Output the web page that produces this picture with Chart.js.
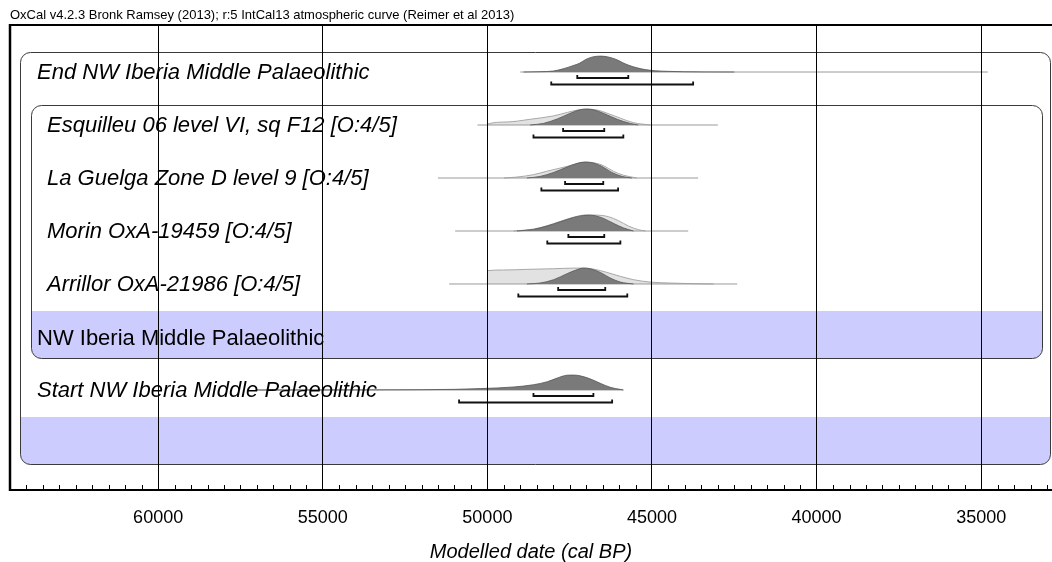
<!DOCTYPE html>
<html>
<head>
<meta charset="utf-8">
<script src="https://cdn.jsdelivr.net/npm/chart.js@4.4.1/dist/chart.umd.min.js"></script>
<style>
  html, body { margin: 0; padding: 0; background: #fff; }
  #wrap { width: 1052px; height: 562px; }
</style>
</head>
<body>
<div id="wrap"><canvas id="c" width="1052" height="562"></canvas></div>
<script>
// ---- text ----
const headerText = 'OxCal v4.2.3 Bronk Ramsey (2013); r:5 IntCal13 atmospheric curve (Reimer et al 2013)';
const axisTitle = 'Modelled date (cal BP)';
const majorTicks = [60000, 55000, 50000, 45000, 40000, 35000];
const minorStep = 500;
const xRange = [32850, 64500];

// one row per entry, top to bottom
const rowLabels = [
  'End NW Iberia Middle Palaeolithic',
  'Esquilleu 06 level VI, sq F12 [O:4/5]',
  'La Guelga Zone D level 9 [O:4/5]',
  'Morin OxA-19459 [O:4/5]',
  'Arrillor OxA-21986 [O:4/5]',
  'NW Iberia Middle Palaeolithic',
  'Start NW Iberia Middle Palaeolithic',
  ''
];

// ---- extents of the thin base line under each distribution (cal BP) ----
const lineRanges = [
  [49000, 34800],
  [50300, 43000],
  [51500, 43600],
  [50980, 43900],
  [51160, 42410],
  null,
  [57000, 45870],
  null
];

// ---- highest posterior density ranges (cal BP) ----
const range68 = [
  [47270, 45720],
  [47700, 46450],
  [47640, 46480],
  [47540, 46450],
  [47850, 46420],
  null,
  [48600, 46780],
  null
];
const range95 = [
  [48060, 43750],
  [48600, 45870],
  [48360, 46030],
  [48180, 45960],
  [49060, 45750],
  null,
  [50860, 46210],
  null
];

// ---- unmodelled (calibrated) likelihoods: [cal BP, relative probability] ----
const esquilleuPrior = [[50000,0],[49990,0.06],[49400,0.19],[48700,0.36],[48000,0.57],[47575,0.79],[47270,0.94],[47000,1.0],[46660,0.94],[46360,0.74],[45960,0.43],[45570,0.15],[45050,0]];
const guelgaPrior    = [[49500,0],[49100,0.06],[48600,0.21],[48200,0.42],[47580,0.73],[47280,0.9],[47030,1.0],[46720,0.94],[46470,0.77],[46170,0.42],[45860,0.17],[45460,0]];
const morinPrior     = [[49200,0],[48600,0.12],[48190,0.33],[47790,0.6],[47380,0.87],[47030,1.0],[46720,1.0],[46320,0.9],[46020,0.65],[45710,0.31],[45410,0.08],[45200,0]];
const arrillorPrior  = [[50000,0],[49995,0.84],[49510,0.88],[48800,0.92],[47990,0.96],[47380,1.0],[47080,1.0],[46780,0.94],[46370,0.73],[45960,0.48],[45560,0.27],[45050,0.12],[44450,0.06],[43740,0.02],[43130,0]];

// ---- modelled posteriors: [cal BP, relative probability] ----
const endPosterior       = [[48900,0],[48400,0.02],[48000,0.06],[47700,0.2],[47400,0.4],[47200,0.55],[47000,0.8],[46800,0.95],[46550,1.0],[46300,0.93],[46100,0.8],[45900,0.6],[45700,0.42],[45450,0.26],[45200,0.15],[44900,0.08],[44500,0.04],[44000,0.015],[43400,0.004],[42500,0]];
const esquilleuPosterior = [[48700,0],[48300,0.1],[47880,0.38],[47480,0.74],[47180,0.96],[47000,1.0],[46785,0.96],[46480,0.74],[46055,0.36],[45660,0.1],[45420,0]];
const guelgaPosterior    = [[48800,0],[48400,0.1],[47990,0.35],[47580,0.69],[47280,0.92],[47030,1.0],[46780,0.94],[46520,0.73],[46220,0.35],[45910,0.1],[45610,0]];
const morinPosterior     = [[49100,0],[48600,0.1],[48190,0.31],[47790,0.58],[47380,0.85],[47080,0.98],[46930,1.0],[46720,0.96],[46470,0.79],[46170,0.48],[45860,0.19],[45560,0]];
const arrillorPosterior  = [[48800,0],[48400,0.06],[47990,0.27],[47580,0.65],[47280,0.9],[47080,1.0],[46880,0.96],[46570,0.73],[46270,0.38],[45960,0.12],[45560,0]];
const startPosterior     = [[57000,0],[54000,0.005],[52000,0.02],[51000,0.04],[50200,0.09],[49200,0.19],[48600,0.33],[48180,0.52],[47880,0.75],[47580,0.93],[47380,0.94],[47180,0.89],[46880,0.7],[46570,0.42],[46270,0.17],[45970,0.04],[45870,0]];

const priors     = [null, esquilleuPrior, guelgaPrior, morinPrior, arrillorPrior, null, null, null];
const posteriors = [endPosterior, esquilleuPosterior, guelgaPosterior, morinPosterior, arrillorPosterior, null, startPosterior, null];

// nested groups (sequence and phase): first and last row of each
const groups = [
  { first: 0, last: 7, insetL: 10, insetR: 1 },
  { first: 1, last: 5, insetL: 21, insetR: 9 }
];

// ---- drawing setup ----
const ROWS_MIN = -0.887, ROWS_MAX = 7.887;
const PEAK = 0.30;          // height of a full-probability peak, in row units
const B68 = 0.113, B95 = 0.236, BTICK = 0.057;

const datasets = [];
function toPts(arr, row) { return arr.map(([yr, p]) => ({ x: yr, y: row - PEAK * p })); }

rowLabels.forEach((_, row) => {
  if (lineRanges[row]) {
    datasets.push({
      data: lineRanges[row].map(yr => ({ x: yr, y: row })),
      borderColor: '#9a9a9a', borderWidth: 1, pointRadius: 0, fill: false, order: 35
    });
  }
  if (priors[row]) {
    datasets.push({
      data: toPts(priors[row], row),
      borderColor: '#a8a8a8', borderWidth: 1, backgroundColor: '#e2e2e2',
      pointRadius: 0, fill: { value: row }, cubicInterpolationMode: 'monotone', order: 40
    });
  }
  if (posteriors[row]) {
    datasets.push({
      data: toPts(posteriors[row], row),
      borderColor: '#555', borderWidth: 0.8, backgroundColor: '#7a7a7a',
      pointRadius: 0, fill: { value: row }, cubicInterpolationMode: 'monotone', order: 30
    });
  }
  [[range68[row], B68], [range95[row], B95]].forEach(([r, off]) => {
    if (!r) return;
    const y = row + off;
    datasets.push({
      data: [{ x: r[0], y: y - BTICK }, { x: r[0], y: y }, { x: r[1], y: y }, { x: r[1], y: y - BTICK }],
      borderColor: '#111', borderWidth: 1.8, pointRadius: 0, fill: false, order: 10
    });
  });
});

function roundRect(ctx, x, y, w, h, r) {
  ctx.beginPath();
  ctx.moveTo(x + r, y);
  ctx.arcTo(x + w, y, x + w, y + h, r);
  ctx.arcTo(x + w, y + h, x, y + h, r);
  ctx.arcTo(x, y + h, x, y, r);
  ctx.arcTo(x, y, x + w, y, r);
  ctx.closePath();
}

const groupBoxes = {
  id: 'groupBoxes',
  beforeDatasetsDraw(chart) {
    const { ctx, chartArea: a, scales: { y } } = chart;
    groups.forEach(g => {
      const left = Math.round(a.left + g.insetL) + 0.5;
      const right = Math.round(a.right - g.insetR) - 0.5;
      const top = Math.round(y.getPixelForValue(g.first - 0.38)) + 0.5;
      const bottom = Math.round(y.getPixelForValue(g.last + 0.40)) + 0.5;
      const bandTop = Math.round(y.getPixelForValue(g.last - 0.49));
      ctx.save();
      roundRect(ctx, left, top, right - left, bottom - top, 10);
      ctx.clip();
      ctx.fillStyle = '#ccccff';
      ctx.fillRect(left - 1, bandTop, right - left + 2, bottom - bandTop + 2);
      ctx.restore();
      ctx.save();
      roundRect(ctx, left, top, right - left, bottom - top, 10);
      ctx.strokeStyle = '#3a3a3a';
      ctx.lineWidth = 1;
      ctx.stroke();
      ctx.restore();
    });
  }
};

const frameAndText = {
  id: 'frameAndText',
  afterDraw(chart) {
    const { ctx, chartArea: a, scales: { x, y } } = chart;
    ctx.save();
    // frame: top, left and bottom (axis) edges
    ctx.strokeStyle = '#000';
    ctx.lineWidth = 2;
    ctx.beginPath();
    ctx.moveTo(a.left, a.top); ctx.lineTo(a.right, a.top);
    ctx.moveTo(a.left, a.bottom); ctx.lineTo(a.right, a.bottom);
    ctx.stroke();
    ctx.lineWidth = 2.5;
    ctx.beginPath();
    ctx.moveTo(a.left, a.top - 1); ctx.lineTo(a.left, a.bottom + 1);
    ctx.stroke();
    // minor ticks along the axis
    ctx.lineWidth = 1;
    x.ticks.forEach(t => {
      if (majorTicks.includes(t.value)) return;
      const px = Math.round(x.getPixelForValue(t.value)) + 0.5;
      ctx.beginPath();
      ctx.moveTo(px, a.bottom); ctx.lineTo(px, a.bottom - 5);
      ctx.stroke();
    });
    // header
    ctx.fillStyle = '#000';
    ctx.textBaseline = 'alphabetic';
    ctx.textAlign = 'left';
    ctx.font = '13px "Liberation Sans", Arial, sans-serif';
    ctx.fillText(headerText, a.left, a.top - 6);
    // row labels
    rowLabels.forEach((label, row) => {
      if (!label) return;
      const isGroup = row === 5;
      const inner = row >= 1 && row <= 4;
      ctx.font = (isGroup ? '' : 'italic ') + '22px "Liberation Sans", Arial, sans-serif';
      ctx.fillText(label, a.left + (inner ? 37 : 27), y.getPixelForValue(row) + (isGroup ? 8 : 7));
    });
    ctx.restore();
  }
};

Chart.defaults.font.family = '"Liberation Sans", Arial, sans-serif';
Chart.defaults.color = '#000';

new Chart(document.getElementById('c'), {
  type: 'line',
  data: { datasets },
  options: {
    responsive: false,
    devicePixelRatio: 1,
    animation: false,
    events: [],
    layout: { padding: { left: 10, top: 25, right: 0, bottom: 0 } },
    plugins: { legend: { display: false }, tooltip: { enabled: false } },
    scales: {
      x: {
        type: 'linear',
        reverse: true,
        min: xRange[0],
        max: xRange[1],
        afterBuildTicks(scale) {
          const ticks = [];
          for (let v = Math.floor(xRange[1] / minorStep) * minorStep; v >= xRange[0]; v -= minorStep) ticks.push({ value: v });
          scale.ticks = ticks;
        },
        afterFit(scale) {
          scale.height = 72;
          scale.paddingLeft = 0;
          scale.paddingRight = 0;
        },
        ticks: {
          autoSkip: false,
          maxRotation: 0,
          padding: 17,
          font: { size: 18 },
          color: '#000',
          callback: v => majorTicks.includes(v) ? String(v) : ''
        },
        grid: {
          z: 1,
          drawTicks: false,
          lineWidth: 1,
          color: ctx => (ctx.tick && majorTicks.includes(ctx.tick.value)) ? '#000' : 'rgba(0,0,0,0)'
        },
        border: { display: false },
        title: {
          display: true,
          text: axisTitle,
          font: { size: 20, style: 'italic', lineHeight: 1.0 },
          color: '#000',
          padding: { top: 0, bottom: 0 }
        }
      },
      y: {
        type: 'linear',
        display: false,
        reverse: true,
        min: ROWS_MIN,
        max: ROWS_MAX
      }
    }
  },
  plugins: [groupBoxes, frameAndText]
});
</script>
</body>
</html>
